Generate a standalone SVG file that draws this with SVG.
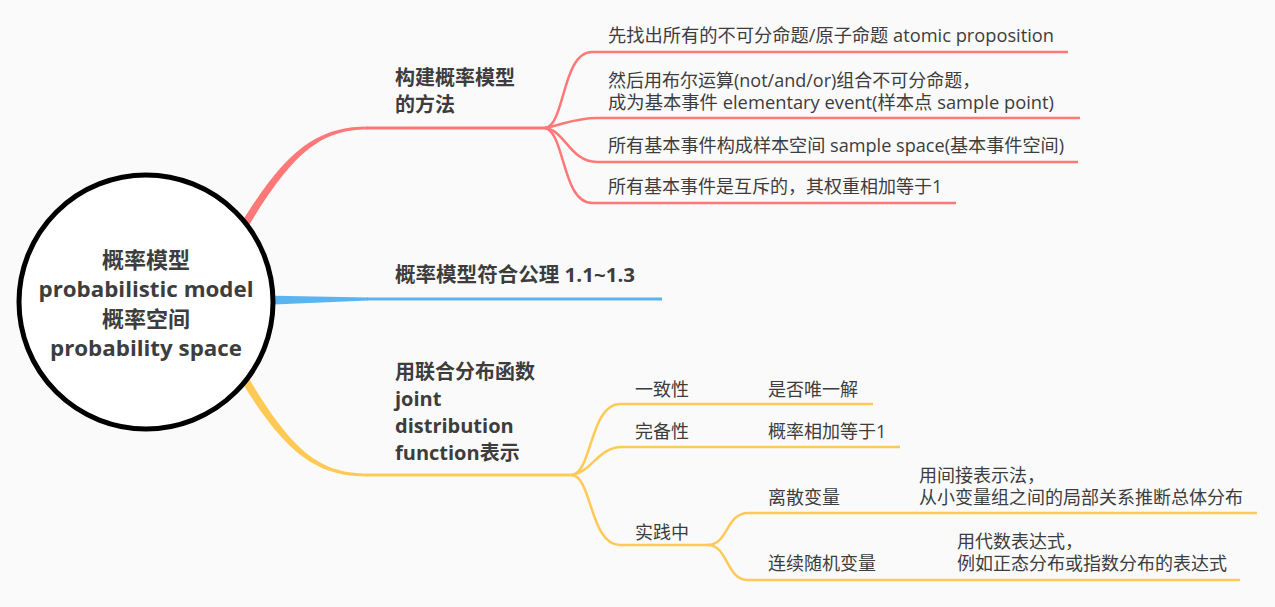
<svg xmlns="http://www.w3.org/2000/svg" width="1275" height="607" viewBox="0 0 1275 607">
<style>
text{font-family:"Open Sans","Noto Sans CJK SC",sans-serif;fill:#3d3d3d}
.t{font-size:18px}
.b{font-size:20px;font-weight:bold}
.c{font-size:22px;font-weight:bold;text-anchor:middle}
.r{stroke:#ff7878;fill:none}
.bl{stroke:#5ab4f0;fill:none}
.y{stroke:#ffc955;fill:none}
.m{stroke-width:3}
.s{stroke-width:2.5}
</style>
<rect width="1275" height="607" fill="#fafafa"/>
<g id="connectors">
  <path d="M240.6 224 C287 148 319 126.5 368 126.5 L368 129.5 C321 129.5 293 152 247.4 228 Z" fill="#ff7878"/>
  <path class="r m" d="M367 128 H547"/>
  <path class="r s" d="M545 128 C565 126 562 52 592 52 H1068"/>
  <path class="r s" d="M545 128 C565 124 575 118 597 118 H1080"/>
  <path class="r s" d="M545 128 C565 130 570 162 597 162 H1078"/>
  <path class="r s" d="M545 128 C565 132 562 203 592 203 H956"/>
  <path d="M262 295.5 L368 297.5 L368 300.5 L262 305 Z" fill="#5ab4f0"/>
  <path class="bl m" d="M367 299 H662"/>
  <path d="M247.4 376 C293 453 321 473.5 368 473.5 L368 476.5 C319 476.5 287 457 240.6 380 Z" fill="#ffc955"/>
  <path class="y m" d="M367 475 H574"/>
  <path class="y s" d="M572 475 C592 473 590 404 620 404 H873"/>
  <path class="y s" d="M572 475 C592 472 598 447 622 447 H900"/>
  <path class="y s" d="M572 475 C592 477 590 545 620 545 H710"/>
  <path class="y s" d="M708 545 C728 545 726 513 748 513 H1257"/>
  <path class="y s" d="M708 545 C728 545 726 580 748 580 H1240"/>
</g>
<g id="root">
  <circle cx="146" cy="302" r="127" fill="#ffffff" stroke="#000000" stroke-width="5"/>
  <text class="c" x="146" y="268">概率模型</text>
  <text class="c" x="146" y="297" textLength="215" lengthAdjust="spacingAndGlyphs">probabilistic model</text>
  <text class="c" x="146" y="327">概率空间</text>
  <text class="c" x="146" y="356" textLength="192" lengthAdjust="spacingAndGlyphs">probability space</text>
</g>
<g id="n-method">
  <text class="b" x="395" y="85">构建概率模型</text>
  <text class="b" x="395" y="112">的方法</text>
</g>
<g id="n-m1"><text class="t" x="608" y="41.5" textLength="446" lengthAdjust="spacingAndGlyphs">先找出所有的不可分命题/原子命题 atomic proposition</text></g>
<g id="n-m2">
  <text class="t" x="608" y="86.5">然后用布尔运算(not/and/or)组合不可分命题，</text>
  <text class="t" x="608" y="108.5" textLength="446" lengthAdjust="spacingAndGlyphs">成为基本事件 elementary event(样本点 sample point)</text>
</g>
<g id="n-m3"><text class="t" x="608" y="151.5" textLength="456" lengthAdjust="spacingAndGlyphs">所有基本事件构成样本空间 sample space(基本事件空间)</text></g>
<g id="n-m4"><text class="t" x="608" y="192.5">所有基本事件是互斥的，其权重相加等于1</text></g>
<g id="n-axiom"><text class="b" x="395" y="282" textLength="240" lengthAdjust="spacingAndGlyphs">概率模型符合公理 1.1~1.3</text></g>
<g id="n-joint">
  <text class="b" x="395" y="379">用联合分布函数</text>
  <text class="b" x="395" y="406">joint</text>
  <text class="b" x="395" y="433">distribution</text>
  <text class="b" x="395" y="460">function表示</text>
</g>
<g id="n-consistency"><text class="t" x="635" y="395.5">一致性</text></g>
<g id="n-unique"><text class="t" x="768" y="395.5">是否唯一解</text></g>
<g id="n-complete"><text class="t" x="635" y="437.5">完备性</text></g>
<g id="n-sum1"><text class="t" x="768" y="437.5">概率相加等于1</text></g>
<g id="n-practice"><text class="t" x="635" y="538.5">实践中</text></g>
<g id="n-discrete"><text class="t" x="768" y="503.5">离散变量</text></g>
<g id="n-discrete-d">
  <text class="t" x="919" y="481.5">用间接表示法，</text>
  <text class="t" x="919" y="503.5">从小变量组之间的局部关系推断总体分布</text>
</g>
<g id="n-continuous"><text class="t" x="768" y="569.5">连续随机变量</text></g>
<g id="n-continuous-d">
  <text class="t" x="957" y="547.5">用代数表达式，</text>
  <text class="t" x="957" y="569.5">例如正态分布或指数分布的表达式</text>
</g>
</svg>
